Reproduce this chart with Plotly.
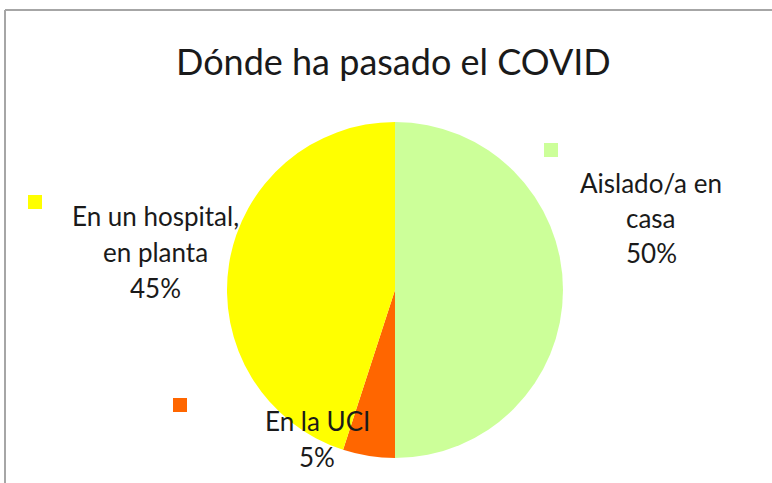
import plotly.graph_objects as go

W, H = 772, 483

categories = ["Aislado/a en casa", "En la UCI", "En un hospital, en planta"]
values = [50, 5, 45]
colors = ["#CCFF99", "#FF6600", "#FFFF00"]
label_lines = [["Aislado/a en", "casa"], ["En la UCI"], ["En un hospital,", "en planta"]]
title_text = "Dónde ha pasado el COVID"

# pixel layout helpers
def px(x):
    return x / W

def py(y):
    return 1 - y / H

cx, cy, r = 395, 290, 168

fig = go.Figure(go.Pie(
    labels=categories,
    values=values,
    marker=dict(colors=colors, line=dict(width=0)),
    sort=False,
    direction="clockwise",
    rotation=0,
    textinfo="none",
    hoverinfo="label+percent",
    showlegend=False,
    domain=dict(x=[px(cx - r), px(cx + r)], y=[py(cy + r), py(cy - r)]),
))

total = sum(values)
# label anchor (center x, first-line y, line spacing) and key square (x, y)
label_pos = [(651, 183, 35), (317, 421, 36), (155, 216, 36)]
key_pos = [(551, 150), (180, 405), (35, 202)]

annotations = []
shapes = []
font_family = "Lato, 'Open Sans', sans-serif"
for i, cat in enumerate(categories):
    lx, ly, sp = label_pos[i]
    lines = label_lines[i] + [f"{round(values[i] / total * 100)}%"]
    for j, line in enumerate(lines):
        annotations.append(dict(
            text=line, xref="paper", yref="paper",
            x=px(lx), y=py(ly + j * sp), xanchor="center", yanchor="middle",
            showarrow=False, font=dict(family=font_family, size=26, color="#1a1a1a"),
        ))
    kx, ky = key_pos[i]
    shapes.append(dict(type="rect", xref="paper", yref="paper",
                       x0=px(kx - 7), x1=px(kx + 7), y0=py(ky + 7), y1=py(ky - 7),
                       fillcolor=colors[i], line=dict(width=0)))

# chart border (top and left visible)
shapes.append(dict(type="line", xref="paper", yref="paper",
                   x0=px(5), x1=1, y0=py(10), y1=py(10),
                   line=dict(color="#A6A6A6", width=2)))
shapes.append(dict(type="line", xref="paper", yref="paper",
                   x0=px(5), x1=px(5), y0=py(10), y1=0,
                   line=dict(color="#A6A6A6", width=2)))

annotations.append(dict(
    text=title_text, xref="paper", yref="paper",
    x=px(393), y=py(61), xanchor="center", yanchor="middle",
    showarrow=False, font=dict(family=font_family, size=36, color="#1a1a1a"),
))

fig.update_layout(
    width=W, height=H,
    margin=dict(l=0, r=0, t=0, b=0),
    paper_bgcolor="white", plot_bgcolor="white",
    annotations=annotations, shapes=shapes,
)

fig.write_html("out.html", config={"displayModeBar": False},
               post_script="document.body.style.margin='0';")
